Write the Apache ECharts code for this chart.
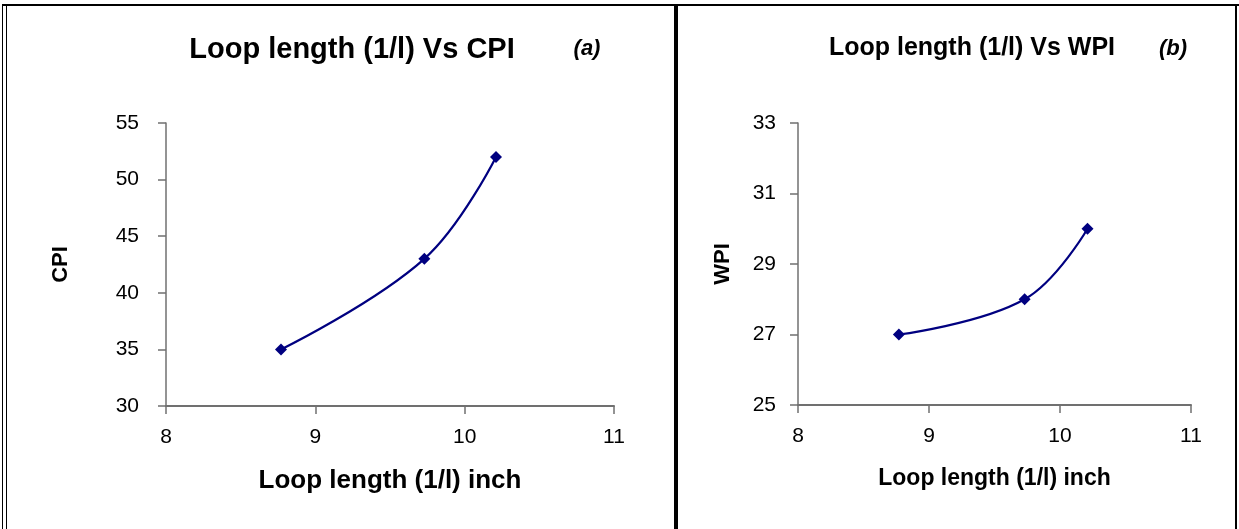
<!DOCTYPE html>
<html>
<head>
<meta charset="utf-8">
<script src="https://cdn.jsdelivr.net/npm/echarts@6/dist/echarts.min.js"></script>
<style>
html, body { margin: 0; padding: 0; background: #fff; }
#chart { width: 1239px; height: 529px; }
</style>
</head>
<body>
<div id="chart"></div>
<script>
// loop length (1/l) values, shared by both panels
var loopLength = [8.77, 9.73, 10.21];
var cpiValues = [35, 43, 52];
var wpiValues = [27, 28, 30];

var xTicks = [8, 9, 10, 11];
var cpiTicks = [30, 35, 40, 45, 50, 55];
var wpiTicks = [25, 27, 29, 31, 33];

function pairs(xs, ys) {
	return xs.map(function(x, i) { return [x, ys[i]]; });
}

var fontFam = '"Liberation Sans", Arial, sans-serif';
var lineColor = '#000080';

// per panel sizes (panel b is drawn a little smaller)
var panel = [
	{ nameSize: 26, yGap: 94, yMargin: 27 },
	{ nameSize: 23, yGap: 64, yMargin: 22 }
];

function xAxisCfg(idx) {
	return {
		type: 'value',
		gridIndex: idx,
		min: xTicks[0],
		max: xTicks[xTicks.length - 1],
		interval: 1,
		name: 'Loop length (1/l) inch',
		nameLocation: 'middle',
		nameGap: 62,
		nameTextStyle: { fontFamily: fontFam, fontWeight: 'bold', fontSize: panel[idx].nameSize, color: '#000' },
		splitLine: { show: false },
		axisLine: { lineStyle: { color: '#707070', width: 2 } },
		axisTick: { show: true, length: 8, lineStyle: { color: '#707070', width: 1.5 } },
		axisLabel: { fontFamily: fontFam, fontSize: 21, color: '#000', margin: 21 }
	};
}

function yAxisCfg(idx, ticks, name) {
	return {
		type: 'value',
		gridIndex: idx,
		min: ticks[0],
		max: ticks[ticks.length - 1],
		interval: ticks[1] - ticks[0],
		name: name,
		nameLocation: 'middle',
		nameGap: panel[idx].yGap,
		nameRotate: 90,
		nameTextStyle: { fontFamily: fontFam, fontWeight: 'bold', fontSize: 22, color: '#000' },
		splitLine: { show: false },
		axisLine: { show: true, lineStyle: { color: '#707070', width: 1.5 } },
		axisTick: { show: true, length: 8, lineStyle: { color: '#707070', width: 1.5 } },
		axisLabel: { fontFamily: fontFam, fontSize: 21, color: '#000', margin: panel[idx].yMargin }
	};
}

function seriesCfg(idx, ys) {
	return {
		type: 'line',
		xAxisIndex: idx,
		yAxisIndex: idx,
		data: pairs(loopLength, ys),
		smooth: 0.4,
		symbol: 'diamond',
		symbolSize: 12,
		lineStyle: { color: lineColor, width: 2.2 },
		itemStyle: { color: lineColor }
	};
}

function titleStyle(size) {
	return { fontFamily: fontFam, fontWeight: 'bold', fontSize: size, color: '#000' };
}
var tagStyle = { fontFamily: fontFam, fontWeight: 'bold', fontStyle: 'italic', fontSize: 22, color: '#000' };

var chart = echarts.init(document.getElementById('chart'));
chart.setOption({
	animation: false,
	backgroundColor: '#fff',
	title: [
		{ text: 'Loop length (1/l) Vs CPI', left: 347, top: 30, textAlign: 'center', textStyle: titleStyle(29) },
		{ text: '(a)', left: 582, top: 33, textAlign: 'center', textStyle: tagStyle },
		{ text: 'Loop length (1/l) Vs WPI', left: 967, top: 31, textAlign: 'center', textStyle: titleStyle(25) },
		{ text: '(b)', left: 1168, top: 33, textAlign: 'center', textStyle: tagStyle }
	],
	grid: [
		{ left: 166, top: 123, width: 448, height: 283 },
		{ left: 798, top: 123, width: 393, height: 282 }
	],
	xAxis: [xAxisCfg(0), xAxisCfg(1)],
	yAxis: [yAxisCfg(0, cpiTicks, 'CPI'), yAxisCfg(1, wpiTicks, 'WPI')],
	series: [seriesCfg(0, cpiValues), seriesCfg(1, wpiValues)],
	graphic: [
		// frame lines of the figure
		{ type: 'line', shape: { x1: 2, y1: 5, x2: 1239, y2: 5 }, style: { stroke: '#000', lineWidth: 2 } },
		{ type: 'line', shape: { x1: 2.5, y1: 5, x2: 2.5, y2: 529 }, style: { stroke: '#000', lineWidth: 1 } },
		{ type: 'line', shape: { x1: 6.5, y1: 5, x2: 6.5, y2: 529 }, style: { stroke: '#000', lineWidth: 1 } },
		{ type: 'line', shape: { x1: 676, y1: 5, x2: 676, y2: 529 }, style: { stroke: '#000', lineWidth: 4 } },
		{ type: 'line', shape: { x1: 1236, y1: 5, x2: 1236, y2: 529 }, style: { stroke: '#000', lineWidth: 2 } }
	]
});
</script>
</body>
</html>
